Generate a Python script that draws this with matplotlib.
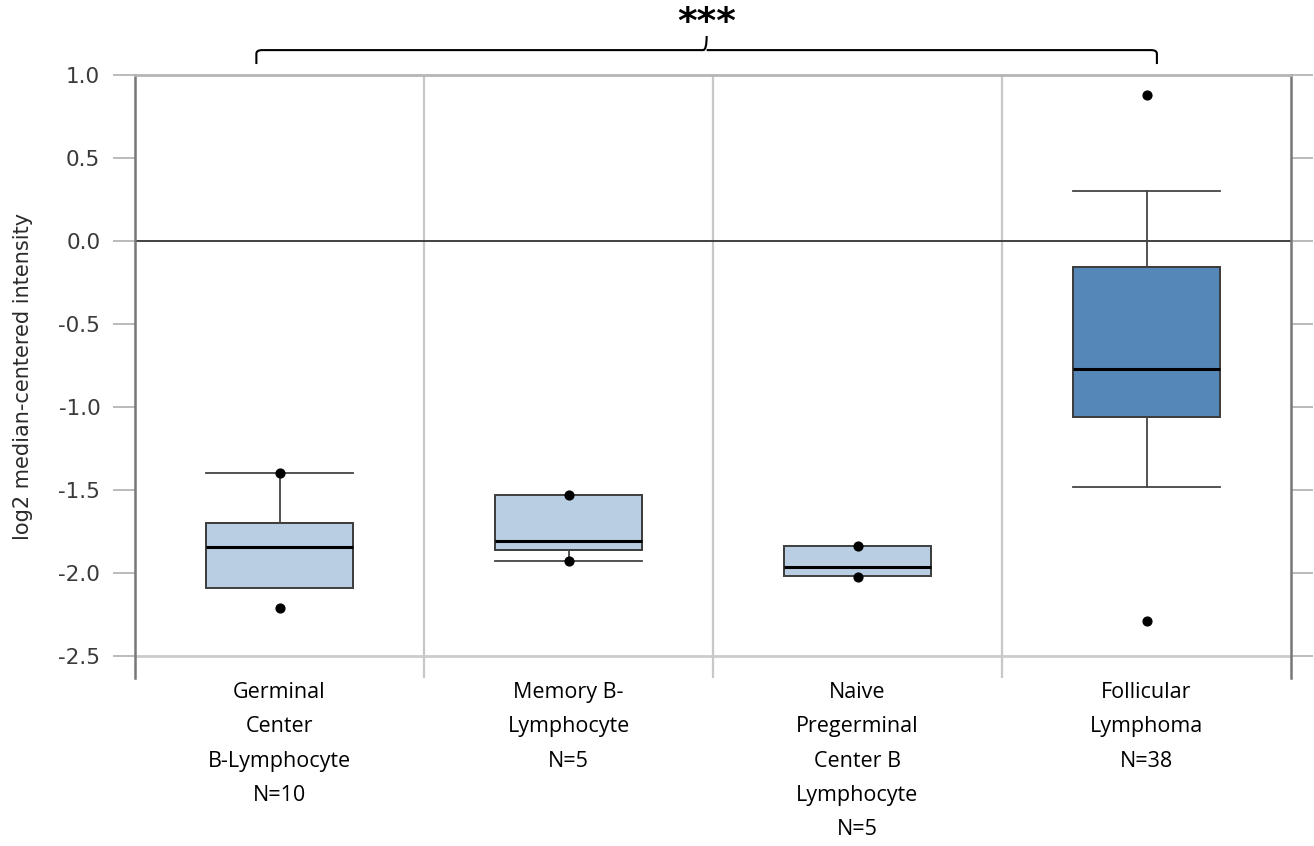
import matplotlib
matplotlib.use("Agg")
import matplotlib.pyplot as plt
from matplotlib.path import Path
from matplotlib.patches import PathPatch

# values (log2 median-centered intensity)
categories = ["Germinal\nCenter\nB-Lymphocyte\nN=10",
              "Memory B-\nLymphocyte\nN=5",
              "Naive\nPregerminal\nCenter B\nLymphocyte\nN=5",
              "Follicular\nLymphoma\nN=38"]
q1 = [-2.09, -1.86, -2.02, -1.06]
med = [-1.845, -1.81, -1.965, -0.77]
q3 = [-1.70, -1.53, -1.835, -0.155]
whis_lo = [-2.09, -1.93, -2.02, -1.48]
whis_hi = [-1.40, -1.53, -1.835, 0.30]
dot_hi = [-1.40, -1.53, -1.835, 0.88]
dot_lo = [-2.21, -1.93, -2.025, -2.29]
box_colors = ["#b9cde3", "#b9cde3", "#b9cde3", "#5588b8"]
y_ticks = [1.0, 0.5, 0.0, -0.5, -1.0, -1.5, -2.0, -2.5]

fig = plt.figure(figsize=(13.14, 8.46), dpi=100)
ax = fig.add_axes([135 / 1314, 1 - 678 / 846, (1291 - 135) / 1314, (678 - 75) / 846])

stats = []
for i in range(len(categories)):
    stats.append(dict(q1=q1[i], med=med[i], q3=q3[i],
                      whislo=whis_lo[i], whishi=whis_hi[i], fliers=[]))

pos = list(range(len(categories)))
bp = ax.bxp(stats, positions=pos, widths=0.51, capwidths=0.51,
            patch_artist=True, showfliers=False,
            boxprops=dict(edgecolor="#3a3a3a", linewidth=1.4),
            whiskerprops=dict(color="#444444", linewidth=1.3),
            capprops=dict(color="#444444", linewidth=1.3),
            medianprops=dict(color="black", linewidth=2.2))
for patch, c in zip(bp["boxes"], box_colors):
    patch.set_facecolor(c)
for art in bp["boxes"] + bp["whiskers"] + bp["caps"] + bp["medians"]:
    art.set_zorder(3)

ax.scatter(pos, dot_hi, s=40, color="black", zorder=5)
ax.scatter(pos, dot_lo, s=40, color="black", zorder=5)

ax.set_xlim(-0.5, len(categories) - 0.5)
ax.set_ylim(-2.633, 1.0)

# reference lines
ax.axhline(0.0, color="#333333", linewidth=1.3, zorder=2)
ax.axhline(-2.5, color="#cccccc", linewidth=2.0, zorder=1)
for b in [0.5, 1.5, 2.5]:
    ax.axvline(b, color="#c8c8c8", linewidth=1.6, zorder=1)

ax.spines["bottom"].set_visible(False)
ax.spines["top"].set_color("#b5b5b5")
ax.spines["top"].set_linewidth(2.0)
for s in ["left", "right"]:
    ax.spines[s].set_color("#777777")
    ax.spines[s].set_linewidth(1.8)

ax.set_yticks(y_ticks)
ax.set_yticklabels([f"{v:.1f}" for v in y_ticks], family="DejaVu Sans")
ax.tick_params(axis="y", which="both", left=True, right=True, length=16,
               width=1.3, color="#b5b5b5", pad=9, labelsize=15.5,
               labelcolor="#3a3a3a", direction="out")
ax.set_xticks(pos)
ax.set_xticklabels(categories, fontsize=15.5, family=["Open Sans", "DejaVu Sans"],
                   linespacing=1.83)
ax.tick_params(axis="x", length=0, pad=3, labelcolor="black")

ax.set_ylabel("log2 median-centered intensity", fontsize=15,
              color="#2a2a2a", family="DejaVu Sans")
ax.yaxis.set_label_coords(-0.088, 0.5)

# significance bracket
x0, x1 = -0.08, 3.036
xc = (x0 + x1) / 2
yb, yh, yt = 1.066, 1.15, 1.235
dx, dy = 0.02, 0.022
verts = [(x0, yb), (x0, yh - dy), (x0, yh), (x0 + dx, yh),
         (xc - 0.012, yh), (xc, yh), (xc, yt),
         (xc, yh), (xc + 0.012, yh),
         (x1 - dx, yh), (x1, yh), (x1, yh - dy), (x1, yb)]
codes = [Path.MOVETO, Path.LINETO, Path.CURVE3, Path.CURVE3,
         Path.LINETO, Path.CURVE3, Path.CURVE3,
         Path.MOVETO, Path.CURVE3,
         Path.LINETO, Path.CURVE3, Path.CURVE3, Path.LINETO]
ax.add_patch(PathPatch(Path(verts, codes), facecolor="none",
                       edgecolor="black", linewidth=1.5, clip_on=False))
ax.text(xc, 1.315, "***", ha="center", va="center", fontsize=27,
        fontweight="bold", family="DejaVu Sans", clip_on=False)

fig.savefig("out.png", dpi=100)
